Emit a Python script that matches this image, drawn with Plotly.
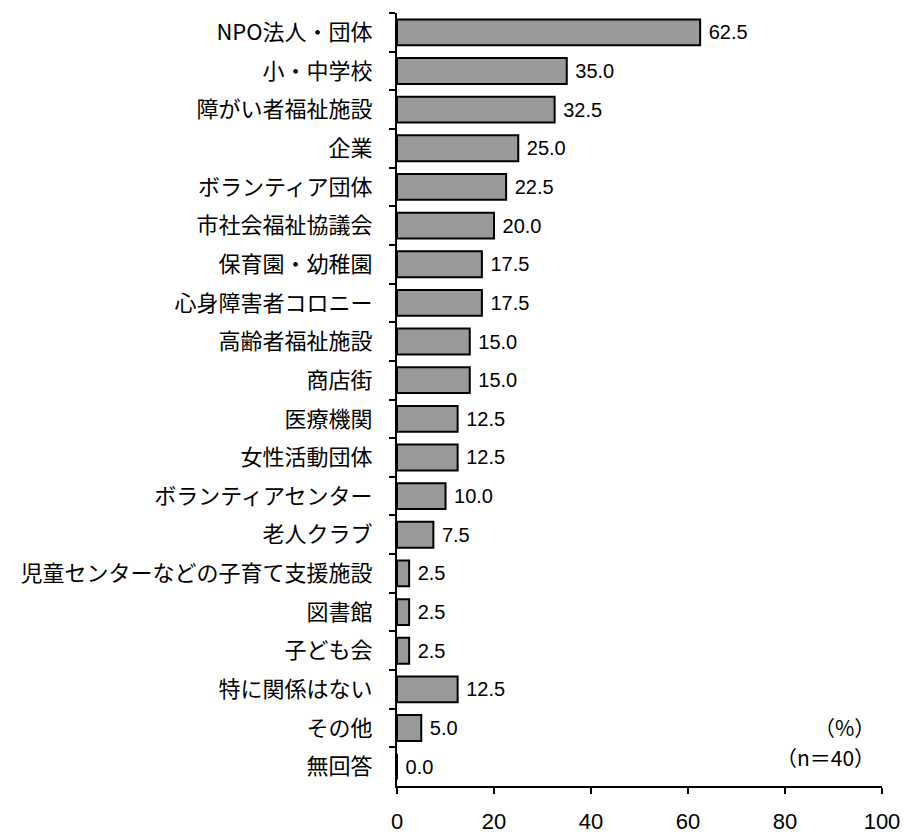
import plotly.graph_objects as go

categories = ["NPO法人・団体", "小・中学校", "障がい者福祉施設", "企業", "ボランティア団体",
              "市社会福祉協議会", "保育園・幼稚園", "心身障害者コロニー", "高齢者福祉施設", "商店街",
              "医療機関", "女性活動団体", "ボランティアセンター", "老人クラブ",
              "児童センターなどの子育て支援施設", "図書館", "子ども会", "特に関係はない", "その他", "無回答"]
values = [62.5, 35.0, 32.5, 25.0, 22.5, 20.0, 17.5, 17.5, 15.0, 15.0,
          12.5, 12.5, 10.0, 7.5, 2.5, 2.5, 2.5, 12.5, 5.0, 0.0]
x_ticks = [0, 20, 40, 60, 80, 100]

JP = "Noto Sans CJK JP, sans-serif"
NUM = "Liberation Sans, Arial, sans-serif"

fig = go.Figure(go.Bar(
    x=values, y=categories, orientation="h",
    marker=dict(color="#999999", line=dict(color="#000000", width=2)),
    texttemplate=" %{x:.1f}", textposition="outside", cliponaxis=False,
    constraintext="none",
    textfont=dict(family=NUM, size=20, color="#000000"),
))

fig.update_layout(
    width=904, height=835,
    margin=dict(l=397, r=22, t=13, b=49),
    plot_bgcolor="white", paper_bgcolor="white",
    bargap=0.33, showlegend=False,
    xaxis=dict(range=[0, 100], tickvals=x_ticks, showgrid=False, zeroline=False,
               automargin=False,
               showline=True, linecolor="black", linewidth=2,
               ticks="outside", ticklen=6, tickwidth=2, tickcolor="black",
               ticklabelstandoff=9,
               tickfont=dict(family=NUM, size=22, color="black")),
    yaxis=dict(categoryorder="array", categoryarray=categories, autorange="reversed",
               automargin=False,
               showgrid=False, zeroline=False, showline=True, linecolor="black", linewidth=2,
               ticks="outside", ticklen=6, tickwidth=2, tickcolor="black",
               tickson="boundaries", ticklabelstandoff=18,
               tickfont=dict(family=JP, size=22, color="black")),
    annotations=[
        dict(text="（%）", x=1, y=0, xref="paper", yref="paper", xanchor="right",
             yanchor="middle", xshift=-5, yshift=59, showarrow=False,
             font=dict(family=JP, size=21, color="black")),
        dict(text="（n＝40）", x=1, y=0, xref="paper", yref="paper", xanchor="right",
             yanchor="middle", xshift=-5, yshift=29, showarrow=False,
             font=dict(family=JP, size=21, color="black")),
    ],
)

fig.write_html("out.html", config={"displayModeBar": False},
               post_script="document.body.style.margin='0';document.body.style.overflow='hidden';")
